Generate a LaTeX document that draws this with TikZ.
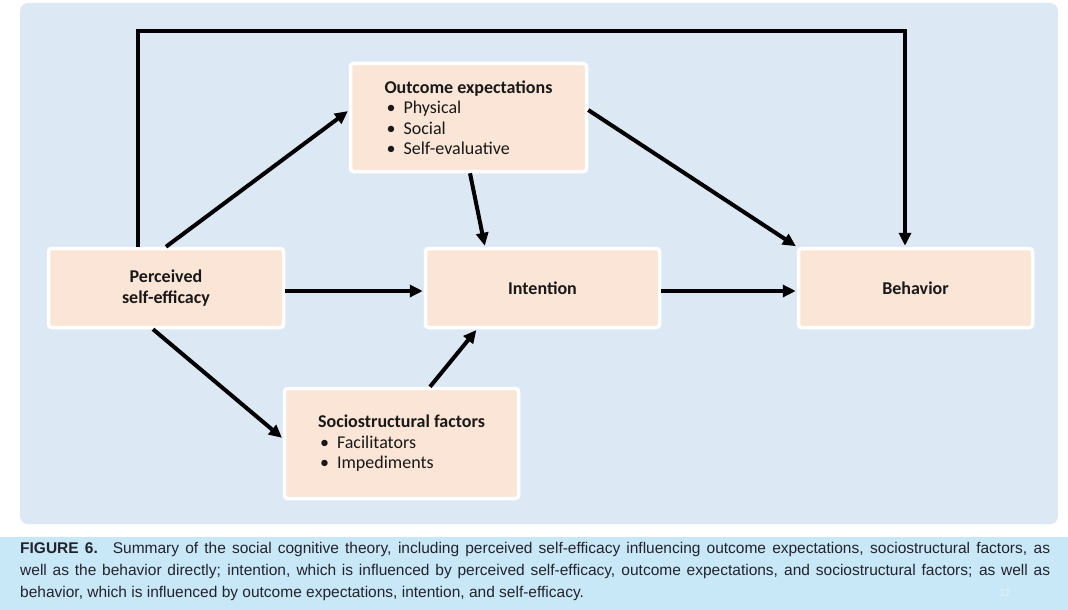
\documentclass[tikz,border=0pt]{standalone}
\usepackage{fontspec}
\setmainfont{Carlito}
\newfontfamily\capfont{Liberation Sans}
\usetikzlibrary{arrows.meta}
\definecolor{panel}{RGB}{221,232,245}
\definecolor{capbg}{RGB}{200,232,247}
\definecolor{peach}{RGB}{251,229,214}
\definecolor{pagenum}{RGB}{225,241,250}
\definecolor{captext}{RGB}{35,35,45}
\begin{document}
\begin{tikzpicture}[x=1pt,y=-1pt,
  box/.style={draw=white, line width=3.5pt, fill=peach, rounded corners=3pt, inner sep=0pt,
    font=\fontsize{18}{20.5}\selectfont, text=black!90},
  arr/.style={line width=4pt, -{Triangle[length=13pt,width=12pt]}, shorten >=1pt}]
\useasboundingbox (0,0) rectangle (1068,610);
\fill[white] (0,0) rectangle (1068,610);
\fill[panel, rounded corners=8pt] (20,3) rectangle (1058,524);
\fill[capbg] (0,537) rectangle (1068,610);

\node[box, minimum width=235pt, minimum height=79pt, align=center] (pse) at (166,288)
  {\bfseries Perceived\\\bfseries self-efficacy\rule[-3pt]{0pt}{1pt}};
\node[box, minimum width=236pt, minimum height=108pt, align=left] (out) at (468.5,117.5)
  {\bfseries Outcome expectations\\
   \hspace*{2pt}\textbullet\hspace{8pt}Physical\\
   \hspace*{2pt}\textbullet\hspace{8pt}Social\\
   \hspace*{2pt}\textbullet\hspace{8pt}Self-evaluative};
\node[box, minimum width=234pt, minimum height=79pt] (int) at (542.5,288) {\bfseries Intention};
\node[box, minimum width=234pt, minimum height=79pt] (beh) at (915.5,288) {\bfseries Behavior};
\node[box, minimum width=234pt, minimum height=110pt, align=left] (soc) at (401.5,443.5)
  {\bfseries Sociostructural factors\\
   \hspace*{2pt}\textbullet\hspace{8pt}Facilitators\\
   \hspace*{2pt}\textbullet\hspace{8pt}Impediments};

\coordinate (top) at (500,31);
\draw[arr] ([xshift=-28pt]pse.north) |- (top) -| ([xshift=-10.5pt]beh.north);
\draw[arr] (pse.north) -- ([yshift=7pt]out.west);
\draw[arr] ([yshift=-3pt]pse.east) -- ([yshift=-3pt]int.west);
\draw[arr] ([xshift=-13pt]pse.south) -- ([yshift=5pt]soc.west);
\draw[arr] ([xshift=1.5pt]out.south) -- ([xshift=-57.5pt]int.north);
\draw[arr] ([yshift=7.5pt]out.east) -- (beh.north west);
\draw[arr] ([xshift=28.5pt]soc.north) -- ([xshift=-65.5pt]int.south);
\draw[arr] ([yshift=-3pt]int.east) -- ([yshift=-3pt]beh.west);

\node[anchor=north west, inner sep=0pt, text width=1030pt, align=justify,
  font=\capfont\fontsize{15.5}{22}\selectfont, text=captext] (cap) at (20,542)
  {\textbf{FIGURE 6.}\hspace*{15pt}Summary of the social cognitive theory, including perceived self-efficacy influencing outcome expectations, sociostructural factors, as\linebreak
  well as the behavior directly; intention, which is influenced by perceived self-efficacy, outcome expectations, and sociostructural factors; as well as\linebreak
  behavior, which is influenced by outcome expectations, intention, and self-efficacy.};
\node[font=\capfont\fontsize{10}{12}\selectfont, text=pagenum] (pg) at (1005,593) {12};
\end{tikzpicture}
\end{document}
